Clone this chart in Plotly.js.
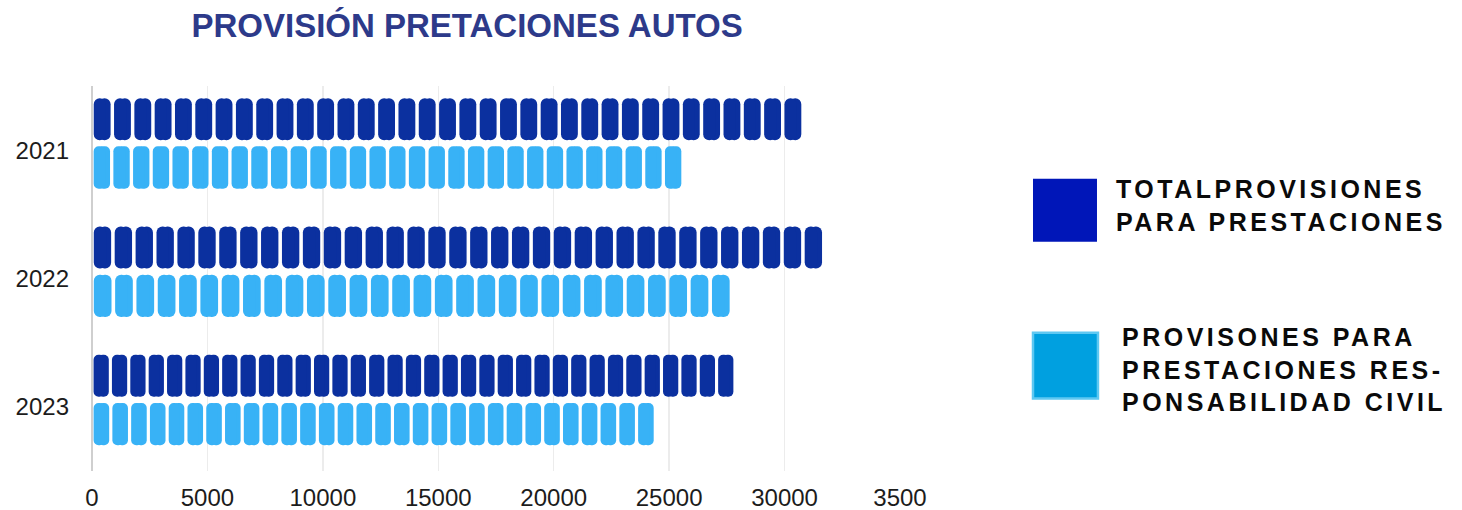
<!DOCTYPE html>
<html>
<head>
<meta charset="utf-8">
<script src="https://cdn.plot.ly/plotly-3.0.1.min.js"></script>
<style>
  html, body { margin: 0; padding: 0; background: #ffffff; }
  #chart { width: 1462px; height: 510px; }
  .annotation-text { letter-spacing: 3.5px; }
</style>
</head>
<body>
<div id="chart"></div>
<script>
// ---- data ----
const categories = ['2021', '2022', '2023'];
const totalProvisiones = [30800, 31700, 27850];      // dark bars
const provisionesRC = [25600, 27700, 24400];         // light bars
const seriesNames = [
  'TOTALPROVISIONES<br>PARA PRESTACIONES',
  'PROVISONES PARA<br>PRESTACIONES RES-<br>PONSABILIDAD CIVIL'
];
const segmentCounts = [35, 30];                      // pictogram segments per bar
const tickValues = [0, 5000, 10000, 15000, 20000, 25000, 30000, 35000];
const tickLabels = ['0', '5000', '10000', '15000', '20000', '25000', '30000', '3500'];
const titleText = 'PROVISIÓN PRETACIONES AUTOS';

// ---- styling ----
const DARK = '#0b309f';
const LIGHT = '#38b2f6';
const FILL = 0.83;   // fraction of each segment pitch that is filled

function segmentTrace(values, nSeg, color, offset, width) {
  const y = [], x = [], base = [];
  categories.forEach((c, i) => {
    const pitch = values[i] / nSeg;
    const half = pitch * FILL / 2;
    const q = pitch * 0.18;            // overlap so the two halves fuse into one pill
    for (let k = 0; k < nSeg; k++) {
      const center = pitch * (k + 0.5);
      y.push(c, c);
      x.push(half + q, -(half + q));
      base.push(center - q, center + q);
    }
  });
  return {
    type: 'bar', orientation: 'h', y: y, x: x, base: base,
    offset: offset, width: width,
    marker: { color: color, cornerradius: 7, line: { width: 0 } },
    hoverinfo: 'skip', showlegend: false
  };
}

const traces = [
  segmentTrace(totalProvisiones, segmentCounts[0], DARK, -0.405, 0.327),
  segmentTrace(provisionesRC, segmentCounts[1], LIGHT, -0.03, 0.33)
];

const layout = {
  width: 1462, height: 510, autosize: false,
  paper_bgcolor: '#ffffff', plot_bgcolor: '#ffffff',
  margin: { l: 92, r: 562, t: 86, b: 38.5, pad: 0 },
  barmode: 'overlay',
  hovermode: false,
  title: {
    text: '<b>' + titleText + '</b>',
    font: { family: 'Liberation Sans, Arial, sans-serif', size: 33, color: '#2d3a8a' },
    x: 0.3195, xref: 'container', xanchor: 'center',
    y: 0.95, yref: 'container', yanchor: 'middle'
  },
  xaxis: {
    range: [0, 35000], tickvals: tickValues, ticktext: tickLabels,
    showgrid: true, gridcolor: '#ececec', gridwidth: 1.5,
    zeroline: true, zerolinecolor: '#cfcfcf', zerolinewidth: 1.5,
    showline: false, ticks: '', ticklabelstandoff: 10,
    tickfont: { family: 'Liberation Sans, Arial, sans-serif', size: 24, color: '#1c1c1c' },
    fixedrange: true
  },
  yaxis: {
    type: 'category', categoryarray: categories, categoryorder: 'array',
    range: [2.5, -0.5], showgrid: false, zeroline: false, showline: false,
    ticks: '', ticklabelstandoff: 22,
    tickfont: { family: 'Liberation Sans, Arial, sans-serif', size: 24, color: '#1c1c1c' },
    fixedrange: true
  },
  shapes: [
    { type: 'rect', xref: 'paper', yref: 'paper',
      x0: 1.1646, x1: 1.2438, y0: 0.5953, y1: 0.7588,
      fillcolor: '#0016b8', line: { width: 0 } },
    { type: 'rect', xref: 'paper', yref: 'paper',
      x0: 1.1646, x1: 1.2450, y0: 0.188, y1: 0.3593,
      fillcolor: '#00a0e0', line: { color: '#5ec8f2', width: 2.5 } }
  ],
  annotations: [
    { text: '<b>' + seriesNames[0] + '</b>', xref: 'paper', yref: 'paper',
      x: 1.2649, y: 0.6887, xanchor: 'left', yanchor: 'middle', align: 'left',
      showarrow: false,
      font: { family: 'Liberation Sans, Arial, sans-serif', size: 25, color: '#0a0a0a' } },
    { text: '<b>' + seriesNames[1] + '</b>', xref: 'paper', yref: 'paper',
      x: 1.2723, y: 0.2633, xanchor: 'left', yanchor: 'middle', align: 'left',
      showarrow: false,
      font: { family: 'Liberation Sans, Arial, sans-serif', size: 25, color: '#0a0a0a' } }
  ]
};

Plotly.newPlot('chart', traces, layout, { displayModeBar: false, staticPlot: true });
</script>
</body>
</html>
